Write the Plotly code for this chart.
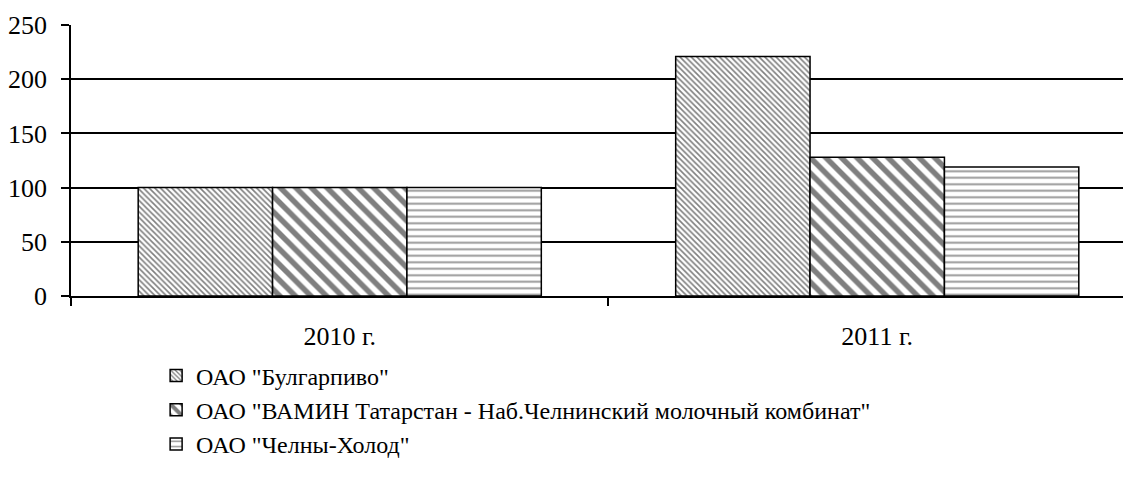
import plotly.graph_objects as go

categories = ["2010 г.", "2011 г."]
series_names = [
    'ОАО "Булгарпиво"',
    'ОАО "ВАМИН Татарстан - Наб.Челнинский молочный комбинат"',
    'ОАО "Челны-Холод"',
]
bulgarpivo = [100, 221]
vamin = [100, 128]
chelny = [100, 119]
y_ticks = [0, 50, 100, 150, 200, 250]

FONT = "Liberation Serif"

patterns = [
    dict(shape="\\", size=4, solidity=0.4, fgcolor="black", bgcolor="white"),
    dict(shape="\\", size=11, solidity=0.5, fgcolor="black", bgcolor="white"),
    dict(shape="-", size=6.5, solidity=0.3, fgcolor="#333333", bgcolor="white"),
]

fig = go.Figure()
for name, vals, pat in zip(series_names, [bulgarpivo, vamin, chelny], patterns):
    fig.add_trace(go.Bar(
        x=categories, y=vals, name=name,
        marker=dict(color="white", pattern=pat, line=dict(color="black", width=1.5)),
    ))

fig.update_layout(
    width=1131, height=498,
    margin=dict(l=63, r=0, t=17, b=210, autoexpand=False),
    paper_bgcolor="white", plot_bgcolor="white",
    barmode="group", bargap=0.25, bargroupgap=0,
    font=dict(family=FONT, color="black"),
    showlegend=True,
    legend=dict(
        x=0.0797, y=-0.212, xanchor="left", yanchor="top",
        font=dict(family=FONT, size=24, color="black"),
        bgcolor="rgba(0,0,0,0)", itemwidth=30, tracegroupgap=0,
    ),
)
fig.update_xaxes(
    type="category", range=[-0.5, 1.487],
    showline=True, linecolor="black", linewidth=1.5,
    ticks="outside", tickson="boundaries", ticklen=8, tickcolor="black", tickwidth=1.5,
    showgrid=False, tickfont=dict(family=FONT, size=26),
    ticklabelstandoff=16,
)
fig.update_yaxes(
    range=[0, 250], tickvals=y_ticks,
    showline=True, linecolor="black", linewidth=1.5,
    ticks="outside", ticklen=8, tickcolor="black", tickwidth=1.5,
    showgrid=True, gridcolor="black", gridwidth=1.5,
    zeroline=False, tickfont=dict(family=FONT, size=26),
    ticklabelstandoff=9,
)

fig.write_html("out.html")
